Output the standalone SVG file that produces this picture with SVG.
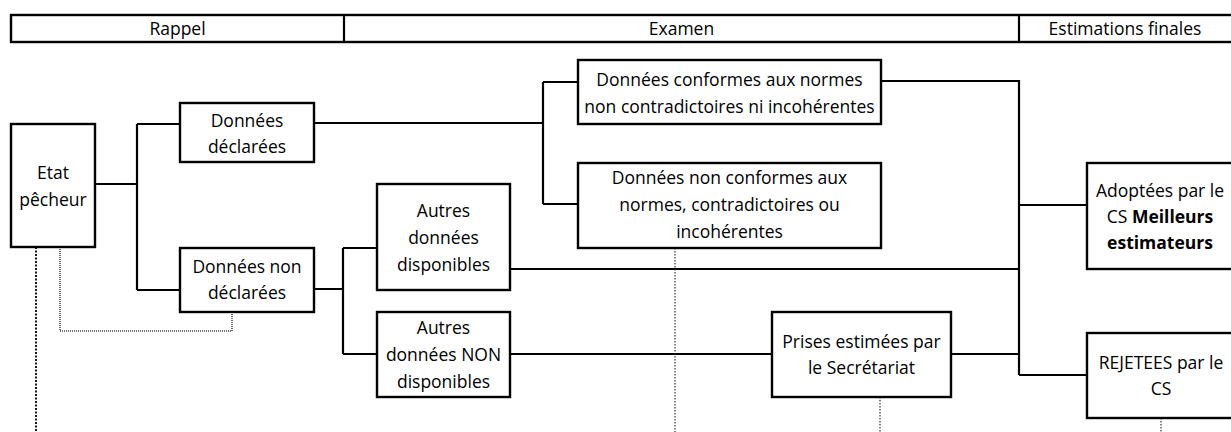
<svg xmlns="http://www.w3.org/2000/svg" width="1231" height="432" viewBox="0 0 1231 432">
<style>
.box{fill:#fff;stroke:#000;stroke-width:2.4}
.conn{fill:none;stroke:#000;stroke-width:2.2}
.dotA{fill:none;stroke:#000;stroke-width:1.8;stroke-dasharray:2 1.5}
.dotB{fill:none;stroke:#444;stroke-width:1.6;stroke-dasharray:1 1}
.dotC{fill:none;stroke:#222;stroke-width:1.1;stroke-dasharray:1.5 1.5}
text{font-family:"Open Sans","Liberation Sans",sans-serif;font-size:17.5px;fill:#000;text-anchor:middle}
.b{font-weight:bold}
</style>
<rect width="1231" height="432" fill="#fff"/>
<g id="header">
<rect class="box" x="11" y="15" width="1222" height="27"/>
<line class="conn" x1="344" y1="15" x2="344" y2="42"/>
<line class="conn" x1="1019" y1="15" x2="1019" y2="42"/>
<text x="177.5" y="35">Rappel</text>
<text x="681.5" y="35">Examen</text>
<text x="1125" y="35">Estimations finales</text>
</g>
<g id="connectors">
<path class="conn" d="M95,184 H137 M137,124 V290 M137,124 H180 M137,290 H180"/>
<path class="conn" d="M314,123 H543 M543,82 V204 M543,82 H578 M543,204 H578"/>
<path class="conn" d="M314,289 H343 M343,248 V354 M343,248 H377 M343,354 H377"/>
<path class="conn" d="M510,269 H1019"/>
<path class="conn" d="M510,354 H772 M951,354 H1019"/>
<path class="conn" d="M881,81 H1019 V375 M1019,205 H1087 M1019,375 H1087"/>
<path class="dotA" d="M36,247 V432"/>
<path class="dotB" d="M60,247 V331 H232 V312"/>
<path class="dotC" d="M675,248 V432"/>
<path class="dotC" d="M880,397 V432"/>
<path class="dotC" d="M1161,418 V432"/>
</g>
<g id="etat">
<rect class="box" x="11" y="124" width="84" height="123"/>
<text x="53" y="179">Etat</text>
<text x="53" y="206">pêcheur</text>
</g>
<g id="declarees">
<rect class="box" x="180" y="103" width="134" height="59"/>
<text x="247" y="127">Données</text>
<text x="247" y="153">déclarées</text>
</g>
<g id="non-declarees">
<rect class="box" x="180" y="248" width="134" height="64"/>
<text x="247" y="273">Données non</text>
<text x="247" y="299">déclarées</text>
</g>
<g id="autres-disponibles">
<rect class="box" x="377" y="184" width="133" height="106"/>
<text x="443.5" y="217">Autres</text>
<text x="443.5" y="244">données</text>
<text x="443.5" y="271">disponibles</text>
</g>
<g id="autres-non-disponibles">
<rect class="box" x="377" y="312" width="133" height="85"/>
<text x="443.5" y="334">Autres</text>
<text x="443.5" y="361">données NON</text>
<text x="443.5" y="388">disponibles</text>
</g>
<g id="conformes">
<rect class="box" x="578" y="60" width="303" height="64"/>
<text x="729.5" y="86">Données conformes aux normes</text>
<text x="729.5" y="113">non contradictoires ni incohérentes</text>
</g>
<g id="non-conformes">
<rect class="box" x="578" y="163" width="303" height="85"/>
<text x="729.5" y="184">Données non conformes aux</text>
<text x="729.5" y="211">normes, contradictoires ou</text>
<text x="729.5" y="237.5">incohérentes</text>
</g>
<g id="prises">
<rect class="box" x="772" y="312" width="179" height="85"/>
<text x="861.5" y="348">Prises estimées par</text>
<text x="861.5" y="374">le Secrétariat</text>
</g>
<g id="adoptees">
<rect class="box" x="1087" y="163" width="146" height="106"/>
<text x="1160" y="197">Adoptées par le</text>
<text x="1160" y="223">CS <tspan class="b">Meilleurs</tspan></text>
<text x="1160" y="249" class="b">estimateurs</text>
</g>
<g id="rejetees">
<rect class="box" x="1087" y="333" width="146" height="85"/>
<text x="1161" y="369">REJETEES par le</text>
<text x="1161" y="395">CS</text>
</g>
</svg>
